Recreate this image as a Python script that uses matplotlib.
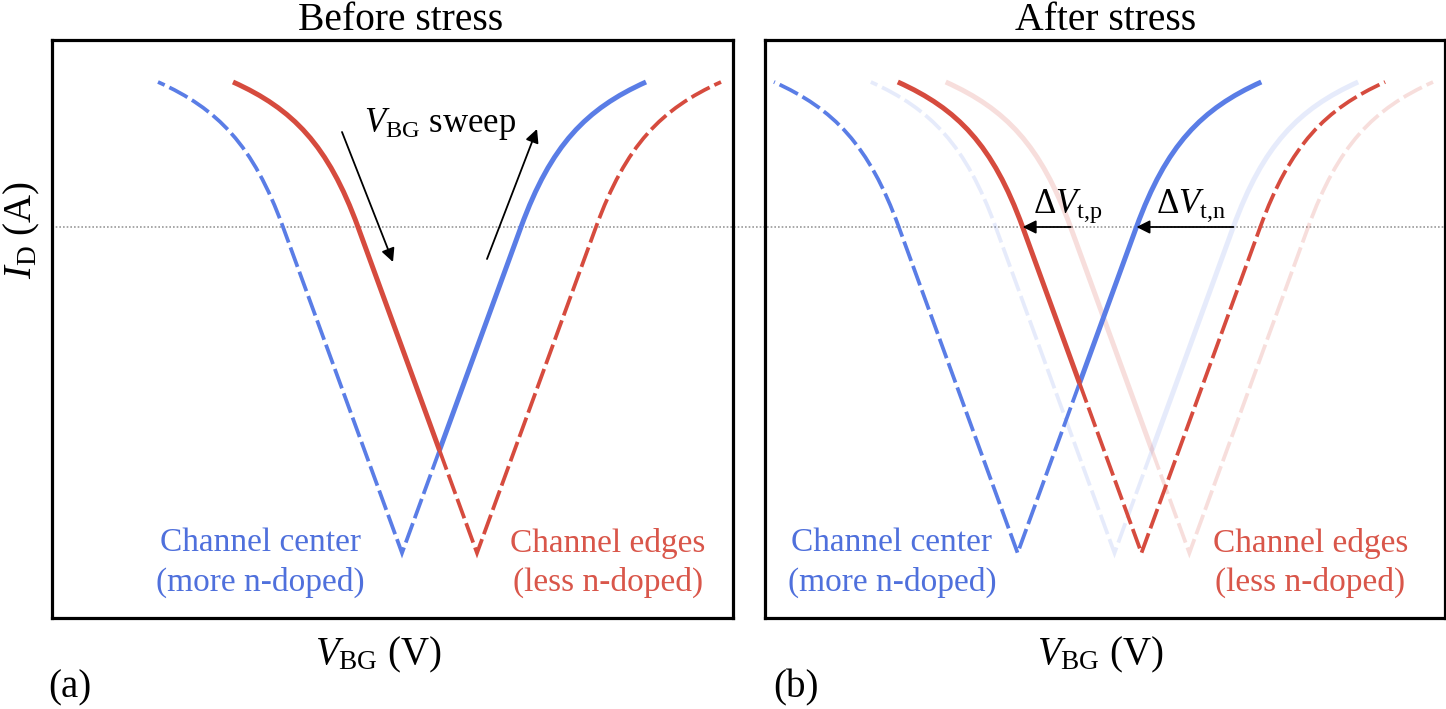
import matplotlib.pyplot as plt
from matplotlib.path import Path
from matplotlib.patches import PathPatch
from matplotlib.lines import Line2D
import matplotlib.transforms as mtransforms

plt.rcParams['font.family'] = ['Liberation Serif', 'DejaVu Serif']
plt.rcParams['mathtext.fontset'] = 'custom'
plt.rcParams['mathtext.rm'] = 'Liberation Serif'
plt.rcParams['mathtext.it'] = 'Liberation Serif:italic'
plt.rcParams['mathtext.bf'] = 'Liberation Serif:bold'

# positions of the Dirac points (V_BG, a.u.)
dirac_before = [350, 425]          # channel center, channel edges
dirac_after = [253, 377]
i_min = 65                          # log I_D at the Dirac point (a.u.)
i_ref = 391                         # reference current for the shifts

# one branch of a transfer curve : (offset from Dirac point, height above minimum)
lin_end = (119, 326)
bend_c1 = (149, 408)
bend_c2 = (184, 444)
branch_top = (244, 471)

region_names = ['Channel center\n(more n-doped)', 'Channel edges\n(less n-doped)']
blue = '#5a7de6'
red = '#d64b3e'
blue_txt = '#4f70dc'
red_txt = '#d9564a'

W, H = 1446, 709
fig = plt.figure(figsize=(W / 100, H / 100), dpi=100)
ax1 = fig.add_axes([52 / W, 91 / H, 681 / W, 578 / H])
ax2 = fig.add_axes([765 / W, 91 / H, 680 / W, 578 / H])

slope = lin_end[1] / lin_end[0]


def pt(x0, side, d):
    dx, dy = d
    return (x0 + side * dx, i_min + dy)


def draw_curve(ax, x0, side, split, color, alpha=1.0):
    # side : side of the branch that is swept (solid), split : where the solid part stops
    sp = (x0 + side * split, i_min + slope * split)
    o = -side
    dashed = Path([sp, (x0, i_min), pt(x0, o, lin_end), pt(x0, o, bend_c1),
                   pt(x0, o, bend_c2), pt(x0, o, branch_top)],
                  [Path.MOVETO, Path.LINETO, Path.LINETO, Path.CURVE4, Path.CURVE4, Path.CURVE4])
    solid = Path([sp, pt(x0, side, lin_end), pt(x0, side, bend_c1),
                  pt(x0, side, bend_c2), pt(x0, side, branch_top)],
                 [Path.MOVETO, Path.LINETO, Path.CURVE4, Path.CURVE4, Path.CURVE4])
    ax.add_patch(PathPatch(dashed, fill=False, edgecolor=color, lw=2.7, alpha=alpha,
                           linestyle=(0, (5.5, 1.4)), capstyle='butt', joinstyle='miter'))
    ax.add_patch(PathPatch(solid, fill=False, edgecolor=color, lw=3.6, alpha=alpha,
                           capstyle='butt', joinstyle='round'))


for ax in (ax1, ax2):
    ax.set_xlim(0, 681)
    ax.set_ylim(0, 578)
    ax.set_xticks([])
    ax.set_yticks([])
    ax.set_facecolor('none')
    for s in ax.spines.values():
        s.set_linewidth(2.3)

# (a) before stress
half = (dirac_before[1] - dirac_before[0]) / 2
draw_curve(ax1, dirac_before[0], 1, half, blue)
draw_curve(ax1, dirac_before[1], -1, half, red)

# (b) after stress, with the old curves faded
draw_curve(ax2, dirac_before[0], 1, half, blue, alpha=0.15)
draw_curve(ax2, dirac_before[1], -1, half, red, alpha=0.18)
half2 = (dirac_after[1] - dirac_after[0]) / 2
draw_curve(ax2, dirac_after[0], 1, half2, blue)
draw_curve(ax2, dirac_after[1], -1, half2, red)

# reference level
tr = mtransforms.blended_transform_factory(fig.transFigure, ax1.transData)
fig.add_artist(Line2D([52 / W, 1445 / W], [i_ref, i_ref], transform=tr, color='#9a9a9a',
                      lw=1.2, linestyle=(0, (1, 1.2)), zorder=-1))

arr = dict(arrowstyle='-|>', color='k', lw=1.3, mutation_scale=20, shrinkA=0, shrinkB=0)
ax1.annotate('', xy=(341, 356), xytext=(290, 486), arrowprops=arr)
ax1.annotate('', xy=(485, 489), xytext=(435, 359), arrowprops=arr)
ax1.text(312, 486, r'$V_{\mathrm{BG}}$ sweep', fontsize=25, va='baseline', ha='left')

# threshold shifts
d_ref = (i_ref - i_min) / slope
ax2.annotate('', xy=(dirac_after[1] - d_ref, i_ref), xytext=(dirac_before[1] - d_ref, i_ref),
             arrowprops=arr)
ax2.annotate('', xy=(dirac_after[0] + d_ref, i_ref), xytext=(dirac_before[0] + d_ref, i_ref),
             arrowprops=arr)
ax2.text(dirac_after[1] - d_ref + 10, i_ref + 14, r'$\Delta V_{\mathrm{t,\!p}}$', fontsize=25,
         va='baseline', ha='left')
ax2.text(dirac_after[0] + d_ref + 20, i_ref + 14, r'$\Delta V_{\mathrm{t,\!n}}$', fontsize=25,
         va='baseline', ha='left')

# region labels
ax1.text(208, 55, region_names[0], color=blue_txt, fontsize=24, ha='center', va='center',
         linespacing=1.35)
ax1.text(556, 55, region_names[1], color=red_txt, fontsize=24, ha='center', va='center',
         linespacing=1.35)
ax2.text(127, 55, region_names[0], color=blue_txt, fontsize=24, ha='center', va='center',
         linespacing=1.35)
ax2.text(546, 55, region_names[1], color=red_txt, fontsize=24, ha='center', va='center',
         linespacing=1.35)

fig.text(401 / W, 1 - 20 / H, 'Before stress', fontsize=28.5, ha='center', va='center')
fig.text(1106 / W, 1 - 20 / H, 'After stress', fontsize=28.5, ha='center', va='center')
fig.text(378 / W, 1 - 655 / H, r'$V_{\mathrm{BG}}$ (V)', fontsize=28, ha='center', va='center')
fig.text(1100 / W, 1 - 655 / H, r'$V_{\mathrm{BG}}$ (V)', fontsize=28, ha='center', va='center')
fig.text(22 / W, 1 - 230 / H, r'$I_{\mathrm{D}}$ (A)', fontsize=28, ha='center', va='center',
         rotation=90)
fig.text(48 / W, 1 - 688 / H, '(a)', fontsize=28, ha='left', va='center')
fig.text(773 / W, 1 - 688 / H, '(b)', fontsize=28, ha='left', va='center')

fig.savefig('out.png', dpi=100)
